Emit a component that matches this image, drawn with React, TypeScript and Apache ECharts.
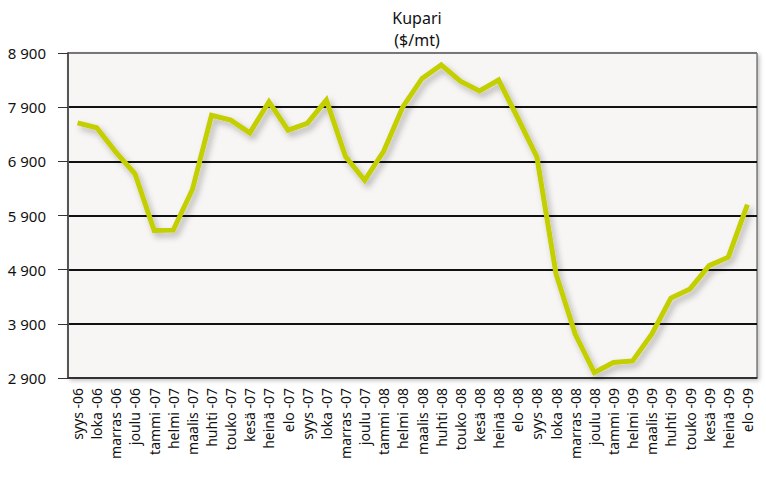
import React, { useEffect, useRef } from "react";
import * as echarts from "echarts";

const categories = [
  "syys -06", "loka -06", "marras -06", "joulu -06", "tammi -07", "helmi -07",
  "maalis -07", "huhti -07", "touko -07", "kesä -07", "heinä -07", "elo -07",
  "syys -07", "loka -07", "marras -07", "joulu -07", "tammi -08", "helmi -08",
  "maalis -08", "huhti -08", "touko -08", "kesä -08", "heinä -08", "elo -08",
  "syys -08", "loka -08", "marras -08", "joulu -08", "tammi -09", "helmi -09",
  "maalis -09", "huhti -09", "touko -09", "kesä -09", "heinä -09", "elo -09",
];

const copperPrice = [
  7610, 7520, 7070, 6670, 5625, 5630,
  6380, 7750, 7660, 7425, 8000, 7475,
  7600, 8030, 6990, 6550, 7090, 7910,
  8430, 8680, 8380, 8200, 8400, 7700,
  6980, 4820, 3710, 3000, 3185, 3215,
  3710, 4375, 4545, 4975, 5130, 6100,
];

const titleText = "Kupari\n($/mt)";
const yMin = 2900;
const yMax = 8900;
const yStep = 1000;

function fmt(v: number): string {
  const s = String(Math.round(v));
  return s.length > 3 ? s.slice(0, s.length - 3) + " " + s.slice(-3) : s;
}

export default function App() {
  const ref = useRef<HTMLDivElement>(null);
  useEffect(() => {
    if (!ref.current) return;
    const chart = echarts.init(ref.current, undefined, { renderer: "svg" });
    chart.setOption({
      animation: false,
      backgroundColor: "#ffffff",
      textStyle: { fontFamily: "Noto Sans" },
      title: {
        text: titleText,
        left: 412,
        textAlign: "center",
        top: 2,
        textStyle: {
          fontFamily: "Noto Sans",
          fontSize: 16,
          fontWeight: "normal",
          color: "#111",
          lineHeight: 22,
        },
      },
      grid: {
        left: 68,
        right: 9,
        top: 53,
        bottom: 100,
        show: true,
        backgroundColor: "#f7f6f4",
        borderColor: "#444",
        borderWidth: 1,
        shadowColor: "rgba(0,0,0,0.25)",
        shadowBlur: 4,
        shadowOffsetX: 2,
        shadowOffsetY: 2,
      },
      xAxis: {
        type: "category",
        data: categories,
        boundaryGap: true,
        axisLine: { show: true, lineStyle: { color: "#333", width: 1.5 } },
        axisTick: { show: false },
        axisLabel: {
          interval: 0,
          rotate: 90,
          margin: 10,
          fontSize: 14,
          color: "#111",
          fontFamily: "Noto Sans",
        },
        splitLine: { show: false },
      },
      yAxis: {
        type: "value",
        min: yMin,
        max: yMax,
        interval: yStep,
        axisLine: { show: true, lineStyle: { color: "#555", width: 2 } },
        axisTick: {
          show: true,
          inside: false,
          length: 10,
          lineStyle: { color: "#333", width: 1 },
        },
        axisLabel: {
          margin: 22,
          fontSize: 15,
          color: "#111",
          fontFamily: "Noto Sans",
          formatter: (v: number) => fmt(v),
        },
        splitLine: {
          show: true,
          lineStyle: {
            color: ["#333", "#111", "#111", "#111", "#111", "#111", "#777"],
            width: 2,
          },
        },
      },
      series: [
        {
          type: "line",
          data: copperPrice,
          showSymbol: false,
          symbol: "none",
          lineStyle: {
            color: "#c3cf00",
            width: 5,
            join: "miter",
            cap: "butt",
            shadowColor: "rgba(0,0,0,0.28)",
            shadowBlur: 6,
            shadowOffsetX: 3,
            shadowOffsetY: 4,
          },
        },
      ],
    });
    return () => chart.dispose();
  }, []);
  return (
    <div
      ref={ref}
      style={{ position: "fixed", left: 0, top: 0, width: 766, height: 478 }}
    />
  );
}
